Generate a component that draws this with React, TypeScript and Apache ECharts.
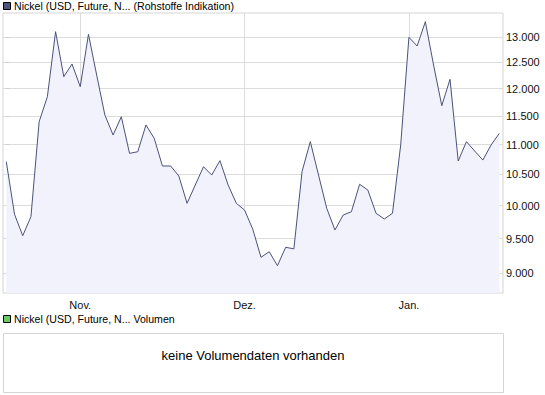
import React, { useEffect, useRef } from "react";
import * as echarts from "echarts";

// Nickel price (USD) – one value per trading point, left to right
const prices: number[] = [
  10710, 9867, 9543, 9830, 11398, 11850, 13115, 12226, 12470, 12037,
  13061, 12258, 11517, 11164, 11487, 10850, 10877, 11340, 11107, 10638,
  10638, 10473, 10037, 10327, 10626, 10489, 10727, 10327, 10037, 9932,
  9639, 9227, 9308, 9107, 9372, 9350, 10550, 11049, 10489, 9959,
  9628, 9856, 9906, 10339, 10247, 9882, 9795, 9882, 10992, 13000,
  12825, 13320, 12451, 11686, 12177, 10721, 11049, 10890, 10737, 10992,
  11193,
];

// month boundaries (index of first point in the month) and labels
const monthTickIndex: number[] = [9, 29, 49];
const monthLabels: string[] = ["Nov.", "Dez.", "Jan."];

// y axis tick values
const yTicks: number[] = [9000, 9500, 10000, 10500, 11000, 11500, 12000, 12500, 13000];

const seriesTitle = "Nickel (USD, Future, N... (Rohstoffe Indikation)";
const volumeTitle = "Nickel (USD, Future, N... Volumen";
const noVolumeText = "keine Volumendaten vorhanden";

const FONT = "Liberation Sans, Arial, sans-serif";

function fmtThousands(v: number): string {
  const r = Math.round(v);
  return r.toString().replace(/\B(?=(\d{3})+(?!\d))/g, ".");
}

export default function App() {
  const ref = useRef<HTMLDivElement | null>(null);

  useEffect(() => {
    if (!ref.current) return;
    const chart = echarts.init(ref.current, undefined, { renderer: "svg" });
    const data = prices.map((v, i) => [i, v]);

    chart.setOption({
      animation: false,
      backgroundColor: "#ffffff",
      grid: {
        left: 3,
        top: 13,
        width: 500,
        height: 280,
        show: true,
        borderColor: "#d4d4d4",
        borderWidth: 1,
        backgroundColor: "transparent",
      },
      xAxis: {
        type: "value",
        min: -0.4,
        max: 60.45,
        axisLine: { show: false },
        axisTick: { show: false, customValues: monthTickIndex },
        splitLine: { show: true, lineStyle: { color: "#dcdcdc", width: 1 } },
        axisLabel: {
          customValues: monthTickIndex,
          margin: 6,
          color: "#111",
          fontFamily: FONT,
          fontSize: 11,
          formatter: (v: number) => {
            const k = monthTickIndex.indexOf(Math.round(v));
            return k >= 0 ? monthLabels[k] : "";
          },
        },
      },
      yAxis: {
        type: "log",
        position: "right",
        min: 8728,
        max: 13502,
        axisLine: { show: false },
        axisTick: {
          show: true,
          length: 3,
          customValues: yTicks,
          lineStyle: { color: "#cccccc" },
        },
        splitLine: { show: true, lineStyle: { color: "#dcdcdc", width: 1 } },
        axisLabel: {
          customValues: yTicks,
          margin: 3,
          color: "#111",
          fontFamily: FONT,
          fontSize: 11,
          formatter: (v: number) => fmtThousands(v),
        },
      },
      series: [
        {
          type: "line",
          data,
          symbol: "none",
          smooth: false,
          lineStyle: { color: "#4b5278", width: 1 },
          areaStyle: { color: "#f2f2fc", origin: "start", opacity: 1 },
          z: 3,
        },
      ],
      graphic: [
        {
          type: "rect",
          shape: { x: 3.5, y: 2.5, width: 7, height: 7 },
          style: { fill: "#4e5679", stroke: "#000000", lineWidth: 1 },
        },
        {
          type: "text",
          x: 14,
          y: 6,
          style: {
            text: seriesTitle,
            fill: "#000",
            font: `10.6px ${FONT}`,
            verticalAlign: "middle",
          },
        },
        {
          type: "rect",
          shape: { x: 3.5, y: 315.5, width: 7, height: 7 },
          style: { fill: "#66cc66", stroke: "#000000", lineWidth: 1 },
        },
        {
          type: "text",
          x: 14,
          y: 319,
          style: {
            text: volumeTitle,
            fill: "#000",
            font: `10.6px ${FONT}`,
            verticalAlign: "middle",
          },
        },
        {
          type: "rect",
          shape: { x: 3.5, y: 333.5, width: 500, height: 59 },
          style: { fill: "#ffffff", stroke: "#d4d4d4", lineWidth: 1 },
        },
        {
          type: "text",
          x: 253,
          y: 355,
          style: {
            text: noVolumeText,
            fill: "#000",
            font: `13px ${FONT}`,
            align: "center",
            verticalAlign: "middle",
          },
        },
      ],
    });

    return () => chart.dispose();
  }, []);

  return (
    <div
      ref={ref}
      style={{ position: "fixed", left: 0, top: 0, width: 545, height: 395 }}
    />
  );
}
